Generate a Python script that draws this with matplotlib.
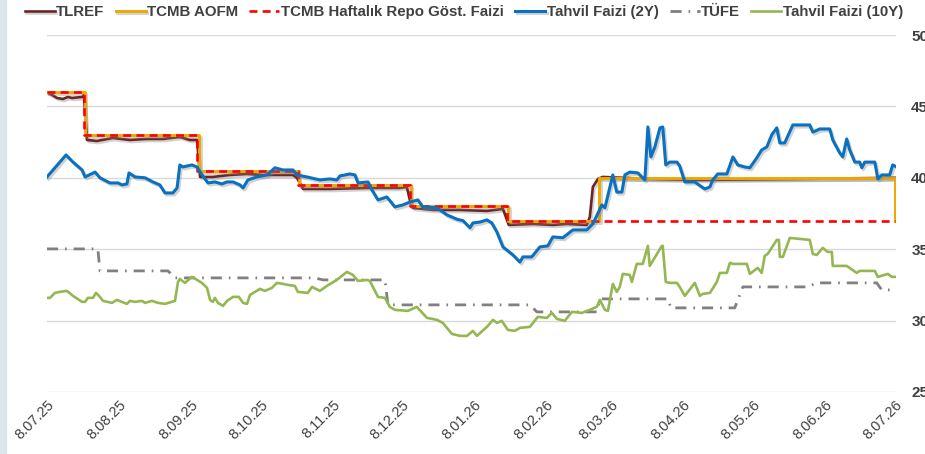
import numpy as np
import pandas as pd
import matplotlib
matplotlib.use("Agg")
import matplotlib.pyplot as plt
import matplotlib.patheffects as pe
import matplotlib.transforms as mtransforms
from matplotlib.patches import Rectangle

plt.rcParams["font.family"] = ["Liberation Sans", "DejaVu Sans"]

start = pd.Timestamp("2025-07-08")

# day offsets from 8.07.25 and values (%)
repo_days = [0, 15.9, 64.6, 108.0, 156.2, 198.0, 365.0]
repo_vals = [46.0, 43.0, 40.5, 39.5, 38.0, 37.0, 37.0]

aofm_days = [0, 16.2, 65.5, 108.4, 156.6, 198.6, 237.6, 365.0, 365.1]
aofm_vals = [46.0, 43.0, 40.5, 39.5, 38.0, 37.0, 40.0, 40.0, 37.0]

tlref_days = [0, 2.2, 4.3, 6.9, 9.0, 10.8, 15.1, 15.9, 17.2, 21.5, 28.4, 35.7, 43.0, 49.9,
              57.2, 61.5, 64.6, 65.9, 71.4, 78.8, 86.1, 93.0, 105.9, 107.6, 110.2, 121.8,
              137.7, 151.9, 154.9, 156.2, 157.5, 166.1, 177.8, 189.4, 196.3, 198.0, 198.8,
              209.2, 217.8, 223.8, 232.4, 233.7, 235.0, 237.2, 239.3, 259.5, 281.1, 324.1, 365.0]
tlref_vals = [45.99, 45.8, 45.59, 45.52, 45.66, 45.59, 45.66, 45.8, 42.65, 42.58, 42.79, 42.65,
              42.72, 42.72, 42.86, 42.65, 42.65, 40.06, 40.06, 40.2, 40.27, 40.2, 40.2, 40.0,
              39.22, 39.22, 39.29, 39.29, 39.36, 38.45, 37.9, 37.75, 37.75, 37.68, 37.82, 37.05,
              36.7, 36.77, 36.7, 36.77, 36.7, 37.26, 39.36, 39.92, 40.06, 39.92, 39.85, 39.92, 40.0]

y2_days = [0, 8.2, 11.2, 15.1, 16.4, 20.7, 22.8, 27.1, 30.6, 32.3, 34.4, 35.3, 37.9, 42.2,
           45.6, 48.6, 50.8, 54.2, 56.0, 57.2, 58.5, 62.4, 64.6, 65.9, 69.3, 72.3, 75.3, 77.5,
           80.1, 83.1, 84.4, 86.5, 90.4, 94.7, 98.1, 101.6, 105.9, 107.6, 111.9, 117.5, 121.8,
           124.8, 126.1, 130.4, 132.6, 133.9, 138.2, 139.9, 142.5, 146.3, 149.8, 153.2, 156.2,
           159.7, 161.8, 167.9, 172.2, 176.5, 179.1, 182.1, 183.4, 186.4, 189.4, 191.5, 193.7,
           196.3, 200.6, 203.6, 204.9, 208.7, 212.2, 215.6, 217.8, 222.1, 226.4, 232.4, 235.0,
           238.9, 240.2, 243.6, 245.3, 247.5, 248.8, 250.9, 254.4, 257.4, 258.7, 260.0, 261.7,
           263.9, 265.1, 266.4, 268.1, 271.2, 272.4, 274.6, 278.9, 281.9, 283.2, 285.4, 286.6,
           288.8, 292.7, 295.3, 297.4, 300.4, 302.6, 305.6, 307.7, 309.9, 312.0, 314.2, 315.5,
           317.6, 321.1, 328.4, 329.7, 332.7, 337.0, 338.3, 341.3, 342.6, 344.3, 345.6, 347.8,
           349.9, 350.8, 352.1, 356.4, 357.7, 359.4, 362.8, 364.1, 365.8]
y2_vals = [40.06, 41.6, 41.1, 40.55, 40.06, 40.4, 40.0, 39.64, 39.64, 39.5, 39.57, 40.34, 40.06,
           40.0, 39.71, 39.5, 38.94, 38.94, 39.29, 40.9, 40.76, 40.9, 40.76, 40.4, 39.64, 39.71,
           39.57, 39.71, 39.71, 39.5, 39.29, 39.85, 40.06, 40.2, 40.7, 40.55, 40.55, 40.2, 40.06,
           39.85, 39.92, 39.85, 40.13, 40.27, 40.2, 39.64, 39.71, 39.15, 38.45, 38.66, 37.96,
           38.1, 38.3, 38.45, 37.96, 37.9, 37.4, 37.1, 37.0, 36.5, 36.84, 36.9, 37.05, 36.84,
           36.2, 35.16, 34.6, 34.1, 34.46, 34.46, 35.16, 35.23, 35.86, 35.8, 36.35, 36.35, 36.77,
           38.1, 37.9, 40.2, 39.0, 39.0, 40.2, 40.4, 40.34, 39.85, 43.56, 41.46, 42.16, 43.5,
           43.56, 40.9, 41.1, 41.1, 40.83, 39.71, 39.71, 39.36, 39.22, 39.36, 39.85, 40.27, 40.27,
           41.46, 40.9, 40.76, 40.7, 41.4, 41.95, 42.16, 43.0, 43.5, 42.44, 42.44, 43.7, 43.7,
           43.2, 43.42, 43.42, 42.65, 41.74, 41.46, 42.72, 41.95, 41.1, 41.1, 40.7, 41.1, 41.1,
           39.92, 40.2, 40.2, 40.9, 40.76]

tufe_days = [0, 21.9, 22.8, 52.1, 55.1, 115.3, 118.8, 145.5, 146.8, 207.9, 210.9, 236.7, 238.0,
             267.3, 268.6, 296.1, 299.6, 327.5, 331.4, 357.2, 359.4, 365.0]
tufe_vals = [35.02, 35.02, 33.48, 33.48, 32.99, 32.99, 32.85, 32.85, 31.1, 31.1, 30.61, 30.61,
             31.52, 31.52, 30.89, 30.89, 32.36, 32.36, 32.64, 32.64, 32.15, 32.15]

y10_days = [0, 1.3, 3.4, 5.6, 8.6, 11.2, 15.1, 16.4, 17.6, 19.8, 21.1, 22.8, 24.1, 28.0, 30.1,
            34.4, 35.7, 37.9, 40.9, 42.2, 45.2, 47.8, 50.8, 55.1, 56.4, 57.2, 59.4, 62.4, 64.6,
            66.7, 68.9, 70.2, 71.4, 72.3, 73.6, 75.8, 77.5, 80.1, 82.6, 84.4, 86.1, 87.4, 91.7,
            93.8, 96.8, 99.0, 101.6, 103.7, 106.7, 108.0, 112.3, 114.1, 117.5, 120.5, 124.8,
            129.1, 131.7, 133.9, 137.7, 139.0, 142.5, 145.5, 147.6, 149.8, 155.4, 159.2, 163.6,
            167.9, 170.4, 174.3, 177.8, 180.8, 183.4, 185.1, 189.4, 192.0, 193.7, 195.8, 198.4,
            201.4, 203.6, 207.9, 211.3, 215.2, 217.4, 219.5, 222.9, 226.0, 230.3, 233.7, 236.7,
            238.0, 240.2, 241.5, 243.6, 245.3, 246.6, 247.9, 250.9, 251.8, 253.9, 256.5, 258.7,
            259.5, 264.7, 265.1, 266.4, 268.1, 271.2, 272.4, 274.6, 278.9, 281.1, 282.3, 285.4,
            288.4, 289.7, 292.7, 294.0, 295.3, 301.3, 302.6, 306.0, 307.7, 309.0, 310.3, 314.2,
            315.1, 315.5, 316.8, 319.8, 328.4, 329.7, 331.4, 334.0, 336.1, 337.9, 338.3, 344.3,
            348.6, 349.9, 356.4, 357.7, 362.0, 363.7, 365.8]
y10_vals = [31.59, 31.59, 31.94, 32.01, 32.08, 31.73, 31.31, 31.31, 31.59, 31.59, 31.94, 31.66,
            31.38, 31.24, 31.45, 31.17, 31.38, 31.31, 31.38, 31.24, 31.38, 31.24, 31.17, 31.38,
            32.71, 32.92, 32.64, 33.06, 32.85, 32.64, 32.29, 31.45, 31.31, 31.59, 31.24, 31.03,
            31.38, 31.66, 31.66, 31.24, 31.17, 31.8, 32.22, 32.08, 32.29, 32.64, 32.57, 32.5,
            32.43, 32.01, 31.94, 32.36, 32.08, 32.43, 32.85, 33.41, 33.2, 32.78, 32.85, 32.78,
            31.66, 31.59, 30.96, 30.75, 30.68, 30.96, 30.19, 30.05, 29.84, 29.07, 28.93, 28.93,
            29.28, 28.93, 29.56, 30.05, 29.84, 29.98, 29.35, 29.28, 29.49, 29.56, 30.26, 30.19,
            30.54, 30.12, 29.98, 30.61, 30.54, 30.75, 30.96, 31.45, 30.75, 30.68, 32.57, 32.01,
            32.36, 33.27, 33.2, 32.71, 33.97, 33.97, 35.23, 33.83, 35.23, 35.23, 32.71, 32.64,
            32.64, 32.36, 31.73, 32.64, 31.73, 31.87, 31.94, 32.71, 33.34, 33.34, 34.04, 33.97,
            33.97, 33.27, 33.69, 33.34, 34.53, 34.67, 35.65, 35.65, 34.46, 34.46, 35.79, 35.65,
            34.67, 34.6, 35.09, 34.81, 34.81, 33.83, 33.83, 33.34, 33.48, 33.48, 33.06, 33.27,
            33.06, 33.06]

tick_months = pd.date_range("2025-07-01", "2026-07-08", freq="MS") + pd.Timedelta(days=7)
y_ticks = [25, 30, 35, 40, 45, 50]


def to_dates(days):
    return start + pd.to_timedelta(np.array(days), unit="D")


shadow = [pe.SimpleLineShadow(offset=(1.2, -1.5), shadow_color="gray", alpha=0.35), pe.Normal()]

fig = plt.figure(figsize=(9.25, 4.54), dpi=100)
ax = fig.add_axes([0.0508, 0.1366, 0.9178, 0.7863])

ax.plot(to_dates(tlref_days), tlref_vals, color="#6b2626", lw=1.9, label="TLREF",
        path_effects=shadow, zorder=3)
ax.plot(to_dates(aofm_days), aofm_vals, color="#f0a800", lw=2.1, drawstyle="steps-post",
        label="TCMB AOFM", path_effects=shadow, zorder=4)
ax.plot(to_dates(repo_days), repo_vals, color="#ff0000", lw=1.9, drawstyle="steps-post",
        linestyle=(0, (3, 2)), label="TCMB Haftalık Repo Göst. Faizi", zorder=5)
ax.plot(to_dates(y2_days), y2_vals, color="#0a70c0", lw=2.2, label="Tahvil Faizi (2Y)",
        path_effects=shadow, zorder=6)
ax.plot(to_dates(tufe_days), tufe_vals, color="#808080", lw=2.0,
        linestyle=(0, (4, 2.5, 0.6, 2.5)), label="TÜFE", zorder=2)
ax.plot(to_dates(y10_days), y10_vals, color="#94b752", lw=1.9, label="Tahvil Faizi (10Y)",
        zorder=2)

ax.set_xlim(start, start + pd.Timedelta(days=365.5))
ax.set_ylim(25, 50)
ax.set_xticks(tick_months)
ax.set_xticklabels([f"{d.day}.{d.month:02d}.{d.year % 100:02d}" for d in tick_months],
                   rotation=45, ha="right", va="top", rotation_mode="anchor",
                   fontsize=10.5, color="#404040")
shift = mtransforms.ScaledTranslation(6 / 100, -4 / 100, fig.dpi_scale_trans)
for lab in ax.get_xticklabels():
    lab.set_transform(lab.get_transform() + shift)
ax.yaxis.tick_right()
ax.set_yticks(y_ticks)
ax.set_yticklabels([str(v) for v in y_ticks], fontsize=11, fontweight="bold", color="#404040")
ax.tick_params(axis="both", length=0)
ax.tick_params(axis="y", pad=11)
ax.tick_params(axis="x", pad=4)
ax.grid(axis="y", color="#d9d9d9", lw=1)
ax.set_axisbelow(True)
for s in ax.spines.values():
    s.set_visible(False)

fig.patches.append(Rectangle((0, 0), 6 / 925, 1, transform=fig.transFigure,
                             color="#dce5ea", zorder=0))

leg = fig.legend(loc="upper left", bbox_to_anchor=(0.012, 1.018), ncol=6, frameon=False,
                 handlelength=2.0, handletextpad=0.1, columnspacing=0.75,
                 prop={"weight": "bold", "size": 10.8})
for t in leg.get_texts():
    t.set_color("#404040")

fig.savefig("out.png", dpi=100)
